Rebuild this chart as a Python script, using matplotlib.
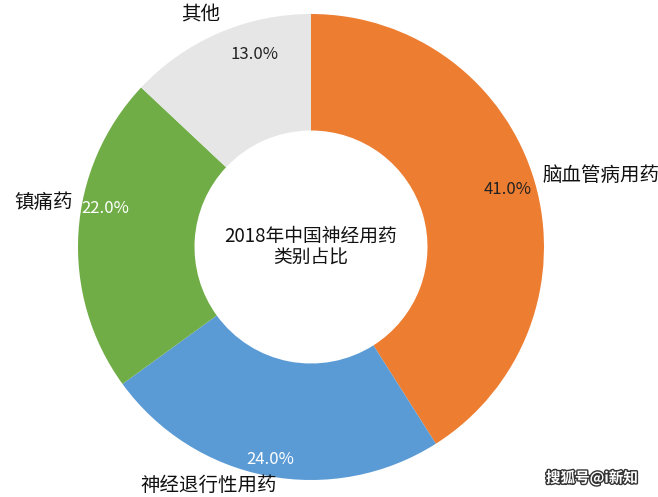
import numpy as np
import matplotlib
matplotlib.use("Agg")
import matplotlib.pyplot as plt
import matplotlib.patheffects as pe

plt.rcParams['font.family'] = ['Noto Sans CJK SC', 'DejaVu Sans']

# data
categories = ['脑血管病用药', '神经退行性用药', '镇痛药', '其他']
shares = [41.0, 24.0, 22.0, 13.0]
colors = ['#ED7D31', '#5B9BD5', '#70AD47', '#E7E6E6']
pct_colors = ['#222222', 'white', 'white', '#222222']
center_title = '2018年中国神经用药\n类别占比'

fig = plt.figure(figsize=(6.58, 4.97), dpi=100)
# square axes in pixels, centred on the donut
cx, cy, r = 311, 247, 233
ax = fig.add_axes([(cx - r) / 658, (497 - cy - r) / 497, 2 * r / 658, 2 * r / 497])

wedges, _ = ax.pie(shares, colors=colors, startangle=90, counterclock=False,
                   radius=1, wedgeprops=dict(width=0.5, linewidth=0))
ax.set_xlim(-1, 1)
ax.set_ylim(-1, 1)
ax.axis('off')

# label placement per slice: (pct radius, pct angle shift, label radius, label angle shift, ha)
lab_opts = [
    (0.88, 0, 1.04, 1, 'left'),
    (0.93, 0, 1.115, -12.5, 'center'),
    (0.9, -7, 1.04, -7, 'right'),
    (0.86, -7, 1.1, 2, 'center'),
]
for w, name, val, pc, opt in zip(wedges, categories, shares, pct_colors, lab_opts):
    mid = (w.theta1 + w.theta2) / 2
    pr, pa, lr, la, ha = opt
    a = np.deg2rad(mid + pa)
    ax.text(pr * np.cos(a), pr * np.sin(a), f'{val:.1f}%', color=pc,
            fontsize=12, ha='center', va='center', clip_on=False)
    a = np.deg2rad(mid + la)
    ax.text(lr * np.cos(a), lr * np.sin(a), name, fontsize=14,
            ha=ha, va='center', color='#111111', clip_on=False)

ax.text(0, 0, center_title, ha='center', va='center', fontsize=13.5,
        color='#111111', linespacing=1.05)

fig.text(592 / 658, 1 - 478 / 497, '搜狐号@i新知', color='white', fontsize=10.5,
         ha='center', va='center', fontweight='bold',
         path_effects=[pe.withStroke(linewidth=2, foreground='#333333')])

plt.savefig('out.png', dpi=100)
